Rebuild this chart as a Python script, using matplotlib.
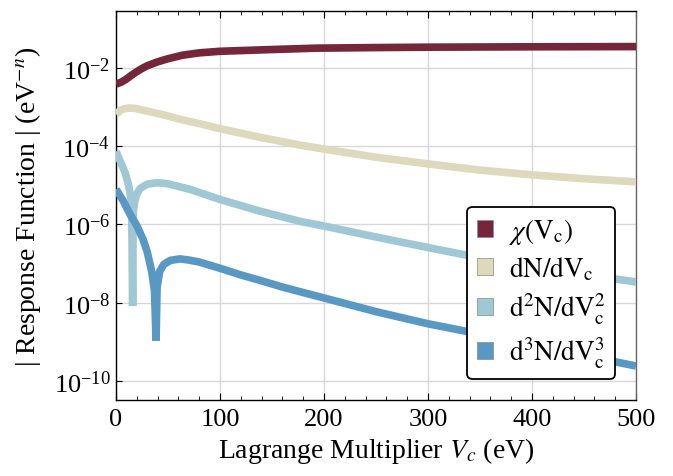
import numpy as np
import matplotlib
matplotlib.use('Agg')
import matplotlib.pyplot as plt
from matplotlib.patches import Patch
from matplotlib.ticker import FixedLocator, MultipleLocator, LogFormatterSciNotation, NullLocator

plt.rcParams['font.family'] = ['Liberation Serif', 'DejaVu Serif']
plt.rcParams['mathtext.fontset'] = 'stix'

# log10 of |response|, Vc in eV
v_chi = [0, 5, 10, 15, 20, 25, 30, 40, 50, 64, 80, 100, 144, 192, 250, 300, 400, 500]
log_chi = [-2.41, -2.36, -2.28, -2.18, -2.09, -2.01, -1.94, -1.84, -1.76, -1.67,
           -1.61, -1.57, -1.53, -1.49, -1.475, -1.465, -1.455, -1.45]

v_d1 = [0, 4, 8, 12.8, 18, 25, 35, 48, 60, 80, 100, 138.5, 177, 200, 250, 300,
        350, 400, 450, 500]
log_d1 = [-3.18, -3.08, -3.04, -3.02, -3.03, -3.07, -3.13, -3.21, -3.30, -3.42,
          -3.55, -3.77, -3.97, -4.07, -4.28, -4.45, -4.61, -4.73, -4.83, -4.91]

v_d2 = [0, 4, 8.7, 12, 15, 16, 16.5, 18, 20, 23, 30, 40, 50, 71, 100, 138.5,
        177, 200, 250, 300, 340, 400, 450, 500]
log_d2 = [-4.13, -4.38, -4.67, -4.98, -5.44, -8.08, -5.70, -5.40, -5.22, -5.08,
          -4.97, -4.93, -4.96, -5.10, -5.36, -5.66, -5.92, -6.04, -6.32, -6.59,
          -6.80, -7.07, -7.28, -7.47]

v_d3 = [0, 7, 13.5, 20, 26, 30, 34.5, 37, 38.5, 39.5, 42, 46, 52, 61.5, 70, 80,
        100, 120, 138.5, 160, 177, 200, 250, 300, 340, 400, 450, 500]
log_d3 = [-5.10, -5.40, -5.74, -6.03, -6.38, -6.70, -7.23, -7.70, -8.97, -7.60,
          -7.20, -7.02, -6.92, -6.88, -6.91, -6.96, -7.12, -7.29, -7.43, -7.60,
          -7.72, -7.88, -8.23, -8.54, -8.75, -9.07, -9.35, -9.62]

labels = [r'$\chi(\mathrm{V_c})$', r'$\mathrm{dN/dV_c}$',
          r'$\mathrm{d^2N/dV_c^2}$', r'$\mathrm{d^3N/dV_c^3}$']
colors = ['#74263a', '#ddd9bd', '#9fc8d4', '#5898c3']

fig = plt.figure(figsize=(6.73, 4.77), dpi=100)
ax = fig.add_axes([0.1724, 0.1593, 0.7726, 0.8155])

series = [(v_chi, log_chi), (v_d1, log_d1), (v_d2, log_d2), (v_d3, log_d3)]
for (v, lg), c in zip(series, colors):
    ax.plot(v, 10.0 ** np.array(lg), color=c, lw=5.5,
            solid_capstyle='butt', solid_joinstyle='bevel', zorder=3)

ax.set_yscale('log')
ax.set_xlim(0, 500)
ax.set_ylim(10 ** -10.49, 10 ** -0.54)

ax.xaxis.set_major_locator(MultipleLocator(100))
ax.xaxis.set_minor_locator(MultipleLocator(20))
ax.yaxis.set_major_locator(FixedLocator([1e-2, 1e-4, 1e-6, 1e-8, 1e-10]))
ax.yaxis.set_major_formatter(LogFormatterSciNotation())
ax.yaxis.set_minor_locator(NullLocator())

ax.tick_params(axis='x', which='both', direction='in', top=True, labelsize=19, pad=6)
ax.tick_params(axis='x', which='major', length=5)
ax.tick_params(axis='x', which='minor', length=3)
ax.tick_params(axis='y', which='major', direction='in', length=4, labelsize=19, pad=4)

ax.grid(True, which='major', color='#d8d8d8', lw=1, zorder=0)
ax.set_axisbelow(True)
for s in ax.spines.values():
    s.set_linewidth(1.0)
ax.spines['right'].set_color('#666666')

ax.set_xlabel(r'Lagrange Multiplier $V_c$ (eV)', fontsize=20, labelpad=3)
ax.set_ylabel(r'| Response Function | (eV$^{-n}$)', fontsize=20, labelpad=8)

handles = [Patch(facecolor=c, edgecolor='#888888', lw=0.5) for c in colors]
leg = ax.legend(handles, labels, loc='lower right', bbox_to_anchor=(0.96, 0.054),
                borderaxespad=0, fontsize=19.5, frameon=True, fancybox=True,
                handlelength=0.6, handleheight=0.6, handletextpad=0.6,
                labelspacing=0.3, borderpad=0.35, framealpha=1)
leg.get_frame().set_edgecolor('black')
leg.get_frame().set_linewidth(1.3)
leg.set_zorder(5)

fig.savefig('out.png', dpi=100)
